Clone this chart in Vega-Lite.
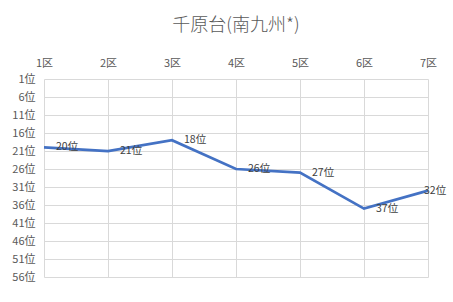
{
  "$schema": "https://vega.github.io/schema/vega-lite/v6.json",
  "autosize": {"type": "none"},
  "width": 384,
  "height": 198,
  "padding": {"left": 44, "top": 79, "right": 25, "bottom": 25},
  "background": "white",
  "title": {
    "text": "千原台(南九州*)",
    "font": "Noto Sans CJK JP",
    "fontSize": 18,
    "fontWeight": 300,
    "color": "#595959",
    "anchor": "middle",
    "offset": 22
  },
  "config": {
    "view": {"stroke": null},
    "font": "Noto Sans CJK JP"
  },
  "data": {
    "values": [
      {"区": "1区", "順位": 20, "ラベル": "20位"},
      {"区": "2区", "順位": 21, "ラベル": "21位"},
      {"区": "3区", "順位": 18, "ラベル": "18位"},
      {"区": "4区", "順位": 26, "ラベル": "26位"},
      {"区": "5区", "順位": 27, "ラベル": "27位"},
      {"区": "6区", "順位": 37, "ラベル": "37位"},
      {"区": "7区", "順位": 32, "ラベル": "32位"}
    ]
  },
  "encoding": {
    "x": {
      "field": "区",
      "type": "ordinal",
      "scale": {"type": "point", "padding": 0},
      "axis": {
        "orient": "top",
        "title": null,
        "labelAngle": 0,
        "labelFont": "Noto Sans CJK JP",
        "labelFontSize": 11,
        "labelColor": "#595959",
        "labelPadding": 11,
        "ticks": false,
        "domain": false,
        "grid": true,
        "gridColor": "#D9D9D9",
        "gridWidth": 1
      }
    },
    "y": {
      "field": "順位",
      "type": "quantitative",
      "scale": {"domain": [1, 56], "reverse": true, "nice": false, "zero": false},
      "axis": {
        "title": null,
        "values": [1, 6, 11, 16, 21, 26, 31, 36, 41, 46, 51, 56],
        "labelExpr": "datum.value + '位'",
        "labelFont": "Noto Sans CJK JP",
        "labelFontSize": 11,
        "labelColor": "#595959",
        "labelPadding": 9,
        "ticks": false,
        "domain": false,
        "grid": true,
        "gridColor": "#D9D9D9",
        "gridWidth": 1
      }
    }
  },
  "layer": [
    {
      "mark": {"type": "line", "color": "#4472C4", "strokeWidth": 2.75}
    },
    {
      "transform": [{"filter": "datum['区'] != '7区'"}],
      "mark": {"type": "text", "align": "left", "baseline": "middle", "dx": 12, "fontSize": 10.5, "color": "#404040", "font": "Noto Sans CJK JP"},
      "encoding": {"text": {"field": "ラベル", "type": "nominal"}}
    },
    {
      "transform": [{"filter": "datum['区'] == '7区'"}],
      "mark": {"type": "text", "align": "left", "baseline": "middle", "dx": -4, "fontSize": 10.5, "color": "#404040", "font": "Noto Sans CJK JP"},
      "encoding": {"text": {"field": "ラベル", "type": "nominal"}}
    }
  ]
}
